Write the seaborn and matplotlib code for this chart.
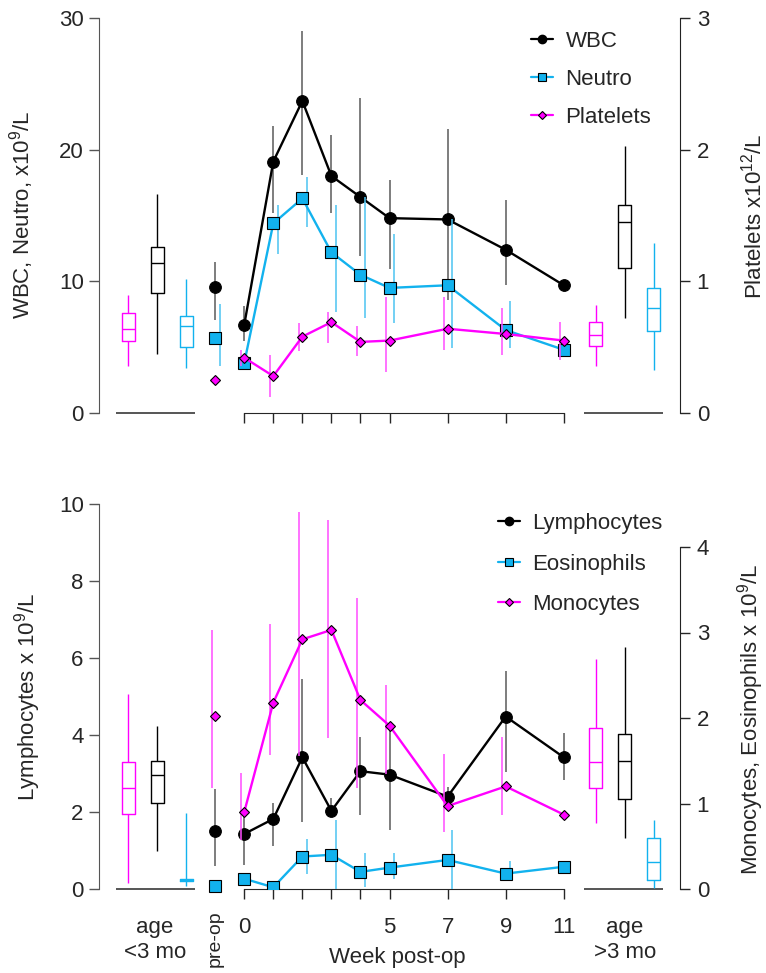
import numpy as np
import matplotlib.pyplot as plt
import seaborn as sns
from matplotlib.lines import Line2D

sns.set_style("ticks")
plt.rcParams["font.family"] = ["Liberation Sans", "DejaVu Sans"]
plt.rcParams["mathtext.fontset"] = "custom"
plt.rcParams["mathtext.rm"] = "Liberation Sans"
plt.rcParams["mathtext.it"] = "Liberation Sans:italic"
plt.rcParams["font.size"] = 16

CYAN = "#12b2ee"
MAG = "#ff00ff"
GREY = "#555555"

# ---- data ----
weeks = [0, 1, 2, 3, 4, 5, 7, 9, 11]
preop_x = -1
young_x = [-4, -3, -2]
old_x = [12.1, 13.1, 14.1]

# top panel
wbc = [6.7, 19.1, 23.7, 18.0, 16.4, 14.8, 14.7, 12.4, 9.7]
wbc_lo = [5.5, 15.2, 18.1, 15.2, 11.9, 10.9, 8.6, 9.7, 9.7]
wbc_hi = [8.1, 21.8, 29.0, 21.1, 23.9, 17.7, 21.6, 16.2, 9.7]
wbc_pre = [9.6, 7.1, 11.5]

neutro = [3.8, 14.4, 16.3, 12.2, 10.5, 9.5, 9.7, 6.3, 4.8]
neutro_lo = [3.8, 12.1, 14.1, 7.7, 7.2, 6.8, 4.9, 4.9, 4.8]
neutro_hi = [3.8, 15.8, 17.9, 15.8, 16.4, 13.6, 14.7, 8.5, 4.8]
neutro_pre = [5.7, 3.6, 8.3]

platelets = [0.42, 0.28, 0.58, 0.69, 0.54, 0.55, 0.64, 0.60, 0.55]
platelets_lo = [0.36, 0.12, 0.47, 0.53, 0.43, 0.31, 0.48, 0.44, 0.40]
platelets_hi = [0.48, 0.44, 0.68, 0.77, 0.66, 0.88, 0.88, 0.80, 0.69]
platelets_pre = [0.25, 0.25, 0.25]

# box summaries: min, q1, median, q3, max
box_young_platelets = [0.36, 0.55, 0.64, 0.76, 0.90]
box_young_wbc = [4.5, 9.1, 11.4, 12.6, 16.6]
box_young_neutro = [3.4, 5.0, 6.6, 7.4, 10.2]
box_old_platelets = [0.36, 0.51, 0.59, 0.69, 0.82]
box_old_wbc = [7.2, 11.0, 14.5, 15.8, 20.3]
box_old_neutro = [3.3, 6.2, 8.0, 9.5, 12.9]

# bottom panel
lymph = [1.43, 1.82, 3.42, 2.03, 3.06, 2.97, 2.40, 4.48, 3.42]
lymph_lo = [0.62, 1.12, 1.73, 1.88, 1.92, 1.53, 2.18, 3.05, 2.83]
lymph_hi = [1.92, 2.24, 5.45, 2.36, 3.95, 4.20, 2.66, 5.67, 4.04]
lymph_pre = [1.5, 0.6, 2.6]

eos = [0.12, 0.02, 0.38, 0.40, 0.20, 0.25, 0.34, 0.18, 0.26]
eos_lo = [0.12, 0.02, 0.18, 0.0, 0.02, 0.12, 0.0, 0.10, 0.26]
eos_hi = [0.12, 0.02, 0.59, 0.81, 0.42, 0.42, 0.69, 0.33, 0.26]
eos_pre = [0.04, 0.04, 0.04]

mono = [0.90, 2.18, 2.92, 3.03, 2.21, 1.91, 0.97, 1.20, 0.87]
mono_lo = [0.57, 1.57, 1.55, 1.77, 1.18, 1.35, 0.67, 0.87, 0.87]
mono_hi = [1.36, 3.10, 4.41, 4.31, 3.40, 2.39, 1.58, 1.78, 0.87]
mono_pre = [2.02, 1.18, 3.03]

box_young_mono = [0.07, 0.88, 1.18, 1.48, 2.28]
box_young_lymph = [1.0, 2.23, 2.95, 3.33, 4.24]
box_young_eos = [0.03, 0.09, 0.105, 0.12, 0.89]
box_old_mono = [0.77, 1.18, 1.48, 1.88, 2.69]
box_old_lymph = [1.32, 2.34, 3.33, 4.03, 6.28]
box_old_eos = [0.01, 0.105, 0.31, 0.60, 0.81]

STYLE = {
    "k": dict(color="k", marker="o", ms=8.4, mfc="k", mec="k", err="#5a5a5a", dx=0.0),
    "c": dict(color=CYAN, marker="s", ms=8.4, mfc=CYAN, mec="k", err="#4cc3f1", dx=0.15),
    "m": dict(color=MAG, marker="D", ms=5.6, mfc=MAG, mec="k", err="#ff4cff", dx=-0.12),
}


def series(ax, key, y, lo, hi, pre, z):
    st = STYLE[key]
    ax.vlines(np.array(weeks) + st["dx"], lo, hi, color=st["err"], lw=1.1, zorder=z)
    ax.vlines(preop_x + st["dx"], pre[1], pre[2], color=st["err"], lw=1.1, zorder=z)
    sns.lineplot(x=weeks, y=y, ax=ax, color=st["color"], lw=1.7, marker=st["marker"],
                 markersize=st["ms"], markerfacecolor=st["mfc"], markeredgecolor=st["mec"],
                 markeredgewidth=0.8, zorder=z + 1, legend=False)
    ax.plot(preop_x, pre[0], ls="none", marker=st["marker"], ms=st["ms"], mfc=st["mfc"],
            mec=st["mec"], mew=0.8, zorder=z + 1, clip_on=False)


def box(ax, x, vals, color):
    sns.boxplot(x=[x] * len(vals), y=vals, ax=ax, native_scale=True, orient="x",
                fill=False, color=color, width=0.45, whis=(0, 100), showcaps=False,
                linewidth=1.0)


def style_axes(ax, ax2, ymax, ticks, rticks, rmax, rlim, xlabels):
    ax.set_xlim(-5, 15)
    ax.set_ylim(0, ymax)
    ax2.set_ylim(0, rlim)
    for s in ["top", "right"]:
        ax.spines[s].set_visible(False)
    for s in ["top", "left", "bottom"]:
        ax2.spines[s].set_visible(False)
    ax.spines["left"].set_color(GREY)
    ax.spines["bottom"].set_bounds(0, 11)
    ax2.spines["right"].set_bounds(0, rmax)
    ax2.spines["right"].set_color("#222222")
    ax.set_yticks(ticks)
    ax2.set_yticks(rticks)
    ax.set_xticks(weeks)
    ax.set_xticklabels(xlabels)
    ax.tick_params(axis="y", direction="out", length=7, width=1, color=GREY, pad=4, labelsize=16)
    ax.tick_params(axis="x", direction="out", length=7, width=1, pad=13, labelsize=16)
    ax2.tick_params(axis="y", direction="out", length=7, width=1, pad=5, labelsize=16)
    ax.set_xlabel("")
    ax.set_ylabel("")
    ax2.set_ylabel("")
    for lo_x, hi_x in [(-4.4, -1.7), (11.7, 14.4)]:
        ax.hlines(0, lo_x, hi_x, color=GREY, lw=1.4, clip_on=False)


def legend_handles():
    return [
        Line2D([], [], color="k", marker="o", ms=6, lw=1.6),
        Line2D([], [], color=CYAN, marker="s", ms=6, mfc=CYAN, mec="k", mew=0.8, lw=1.6),
        Line2D([], [], color=MAG, marker="D", ms=4, mfc=MAG, mec="k", mew=0.8, lw=1.6),
    ]


fig = plt.figure(figsize=(7.66, 9.73), dpi=100)
W, H = 766, 973

def px_axes(x0, y0, x1, y1):
    return fig.add_axes([x0 / W, 1 - y1 / H, (x1 - x0) / W, (y1 - y0) / H])

# ---- top panel ----
ax = px_axes(99, 18, 680, 413)
ax2 = ax.twinx()
ax2.set_position(ax.get_position())

series(ax, "k", wbc, wbc_lo, wbc_hi, wbc_pre, 3)
series(ax, "c", neutro, neutro_lo, neutro_hi, neutro_pre, 5)
series(ax2, "m", platelets, platelets_lo, platelets_hi, platelets_pre, 3)

box(ax2, young_x[0], box_young_platelets, MAG)
box(ax, young_x[1], box_young_wbc, "k")
box(ax, young_x[2], box_young_neutro, CYAN)
box(ax2, old_x[0], box_old_platelets, MAG)
box(ax, old_x[1], box_old_wbc, "k")
box(ax, old_x[2], box_old_neutro, CYAN)

style_axes(ax, ax2, 30, [0, 10, 20, 30], [0, 1, 2, 3], 3, 3, [""] * len(weeks))

ax2.legend(legend_handles(), ["WBC", "Neutro", "Platelets"], loc="upper left",
           bbox_to_anchor=(531 / W, 1 - 31 / H), bbox_transform=fig.transFigure,
           frameon=False, fontsize=16, handlelength=1.0, handletextpad=0.55,
           labelspacing=0.76, borderpad=0, borderaxespad=0)

fig.text(22 / W, 1 - 215 / H, r"WBC, Neutro, x10$^9$/L", rotation=90, ha="center", va="center", fontsize=16)
fig.text(754 / W, 1 - 216 / H, r"Platelets x10$^{12}$/L", rotation=90, ha="center", va="center", fontsize=16)

# ---- bottom panel ----
bx = px_axes(99, 504, 680, 889)
bx2 = bx.twinx()
bx2.set_position(bx.get_position())

series(bx, "k", lymph, lymph_lo, lymph_hi, lymph_pre, 5)
series(bx2, "c", eos, eos_lo, eos_hi, eos_pre, 5)
series(bx2, "m", mono, mono_lo, mono_hi, mono_pre, 3)

box(bx2, young_x[0], box_young_mono, MAG)
box(bx, young_x[1], box_young_lymph, "k")
box(bx2, young_x[2], box_young_eos, CYAN)
box(bx2, old_x[0], box_old_mono, MAG)
box(bx, old_x[1], box_old_lymph, "k")
box(bx2, old_x[2], box_old_eos, CYAN)

week_labels = ["0", "", "", "", "", "5", "7", "9", "11"]
style_axes(bx, bx2, 10, [0, 2, 4, 6, 8, 10], [0, 1, 2, 3, 4], 4, 10 * 38.5 / 85.5, week_labels)

bx2.legend(legend_handles(), ["Lymphocytes", "Eosinophils", "Monocytes"], loc="upper left",
           bbox_to_anchor=(498 / W, 1 - 513 / H), bbox_transform=fig.transFigure,
           frameon=False, fontsize=16, handlelength=1.0, handletextpad=0.55,
           labelspacing=0.88, borderpad=0, borderaxespad=0)

fig.text(28 / W, 1 - 697 / H, r"Lymphocytes x 10$^9$/L", rotation=90, ha="center", va="center", fontsize=16)
fig.text(751 / W, 1 - 719 / H, r"Monocytes, Eosinophils x 10$^9$/L", rotation=90, ha="center", va="center", fontsize=16)

fig.text(155 / W, 1 - 940 / H, "age\n<3 mo", ha="center", va="center", fontsize=16, linespacing=1.25)
fig.text(625 / W, 1 - 940 / H, "age\n>3 mo", ha="center", va="center", fontsize=16, linespacing=1.25)
fig.text(215 / W, 1 - 939 / H, "pre-op", rotation=90, ha="center", va="center", fontsize=14)
fig.text(397 / W, 1 - 958 / H, "Week post-op", ha="center", va="center", fontsize=16)

fig.savefig("out.png", dpi=100)
